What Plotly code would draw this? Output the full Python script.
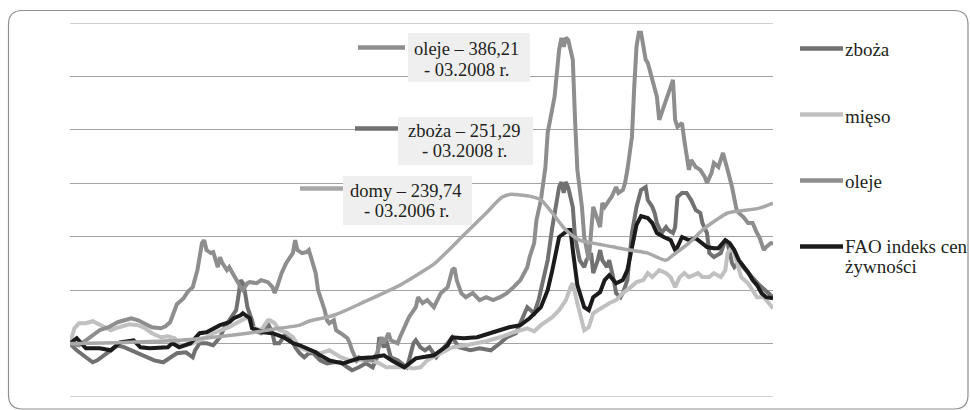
import plotly.graph_objects as go

# ---- data: indices, Jan 1990 = 100 ----
zboza_dates = ["1990-01","1990-04","1990-08","1990-11","1991-01","1991-04","1991-07","1991-10","1992-01","1992-04",
               "1992-08","1992-11","1993-02","1993-06","1993-09","1993-12","1994-04","1994-07","1994-08","1994-10",
               "1995-01","1995-04","1995-07","1995-09","1995-11","1996-02","1996-03","1996-04","1996-05","1996-06",
               "1996-07","1996-09","1996-10","1997-01","1997-03","1997-04","1997-06","1997-07","1997-09","1997-12",
               "1998-02","1998-04","1998-06","1998-08","1998-10","1998-12","1999-03","1999-06","1999-09","1999-12",
               "2000-03","2000-05","2000-08","2000-11","2001-02","2001-04","2001-05","2001-07","2001-08","2001-10",
               "2002-01","2002-03","2002-05","2002-06","2002-08","2002-09","2002-11","2003-01","2003-03","2003-06",
               "2003-10","2004-01","2004-04","2004-09","2005-01","2005-06","2005-10","2006-01","2006-05","2006-08",
               "2006-10","2007-01","2007-03","2007-05","2007-07","2007-09","2007-12","2008-01","2008-02","2008-03",
               "2008-04","2008-06","2008-07","2008-09","2008-11","2008-12","2009-02","2009-03","2009-05","2009-06",
               "2009-07","2009-09","2009-10","2009-12","2010-01","2010-03","2010-04","2010-06","2010-07","2010-08",
               "2010-10","2010-12","2011-02","2011-03","2011-05","2011-06","2011-07","2011-09","2011-11","2011-12",
               "2012-02","2012-03","2012-04","2012-06","2012-08","2012-10","2012-12","2013-02","2013-03","2013-05",
               "2013-06","2013-08","2013-11","2014-01","2014-02","2014-04","2014-05","2014-07","2014-12","2015-04",
               "2015-10"]
zboza_vals = [100.0, 93.7, 87.2, 82.5, 84.3, 89.0, 93.7, 98.4, 96.5, 93.7,
              89.0, 86.2, 84.3, 82.5, 86.2, 90.9, 91.8, 87.2, 93.7, 100.3,
              100.3, 98.4, 105.9, 115.3, 121.8, 131.2, 143.4, 159.4, 156.5, 147.2,
              134.0, 121.8, 112.5, 109.7, 112.5, 119.0, 109.7, 100.3, 100.3, 109.7,
              105.9, 96.5, 90.9, 87.2, 90.9, 90.9, 84.3, 81.5, 82.5, 82.5,
              77.8, 75.0, 77.8, 81.5, 77.8, 87.2, 105.9, 96.5, 103.1, 87.2,
              84.3, 81.5, 77.8, 84.3, 100.3, 103.1, 96.5, 93.7, 96.5, 87.2,
              98.4, 105.9, 96.5, 93.7, 95.6, 93.7, 100.3, 105.9, 109.7, 124.7,
              134.0, 128.4, 140.6, 159.4, 178.1, 209.0, 246.5, 251.0, 241.0, 251.29,
              246.0, 227.8, 199.7, 178.1, 171.5, 178.1, 184.7, 165.9, 178.1, 187.5,
              178.1, 171.5, 178.1, 159.4, 147.2, 143.4, 147.2, 159.4, 184.7, 203.4,
              227.8, 243.7, 246.5, 234.3, 227.8, 222.2, 212.8, 203.4, 209.0, 206.2,
              203.4, 209.0, 237.2, 240.9, 240.9, 234.3, 225.0, 222.2, 212.8, 203.4,
              184.7, 180.9, 184.7, 196.8, 194.0, 175.3, 171.5, 176.2, 164.0, 154.7,
              143.4]

mieso_dates = ["1990-01","1990-03","1990-05","1990-08","1990-11","1991-01","1991-04","1991-07","1991-09","1991-12",
               "1992-03","1992-07","1992-10","1993-01","1993-05","1993-08","1993-11","1994-01","1994-04","1994-07",
               "1994-10","1995-01","1995-04","1995-08","1995-11","1996-02","1996-05","1996-07","1996-08","1996-09",
               "1997-01","1997-04","1997-05","1997-07","1997-09","1997-12","1998-03","1998-06","1998-09","1999-01",
               "1999-03","1999-07","1999-12","2000-04","2000-08","2001-01","2001-05","2001-08","2002-01","2002-05",
               "2002-08","2002-11","2003-02","2003-08","2004-01","2004-07","2005-04","2005-10","2006-04","2006-10",
               "2007-01","2007-04","2007-07","2007-09","2007-12","2008-03","2008-05","2008-06","2008-08","2008-10",
               "2008-11","2009-01","2009-03","2009-05","2009-07","2009-10","2010-01","2010-04","2010-07","2010-10",
               "2011-01","2011-03","2011-05","2011-08","2011-11","2012-01","2012-03","2012-05","2012-07","2012-09",
               "2013-01","2013-03","2013-06","2013-08","2013-11","2014-01","2014-02","2014-04","2014-05","2014-07",
               "2014-08","2014-11","2015-01","2015-03","2015-06","2015-08","2015-10"]
mieso_vals = [100.0, 114.3, 119.0, 119.0, 120.9, 119.0, 115.3, 112.5, 114.3, 116.2,
              118.1, 117.2, 114.3, 109.7, 105.9, 106.8, 105.0, 98.4, 98.4, 100.3,
              103.1, 105.9, 109.7, 112.5, 115.3, 119.0, 121.8, 124.7, 121.8, 115.3,
              112.5, 121.8, 121.8, 119.0, 112.5, 110.6, 105.9, 96.5, 93.7, 91.8,
              90.9, 93.7, 87.2, 84.3, 84.3, 84.3, 81.5, 77.8, 77.8, 77.8,
              76.8, 77.8, 84.3, 90.9, 96.5, 98.4, 102.2, 105.9, 110.6, 114.3,
              111.5, 117.2, 121.8, 124.7, 131.2, 140.6, 152.8, 156.5, 137.8, 121.8,
              112.5, 115.3, 128.4, 131.2, 134.0, 137.8, 140.6, 147.2, 151.9, 157.5,
              159.4, 165.9, 162.2, 168.7, 165.9, 162.2, 152.8, 162.2, 165.9, 162.2,
              165.9, 162.2, 162.2, 165.9, 162.2, 168.7, 184.7, 190.3, 184.7, 171.5,
              162.2, 156.5, 150.0, 143.4, 143.4, 137.8, 133.1]

oleje_dates = ["1990-01","1990-05","1990-08","1990-11","1991-02","1991-06","1991-10","1992-01","1992-04","1992-07",
               "1992-10","1993-01","1993-05","1993-07","1993-09","1993-11","1993-12","1994-03","1994-05","1994-07",
               "1994-09","1994-10","1994-11","1994-12","1995-01","1995-03","1995-04","1995-06","1995-07","1995-08",
               "1995-10","1995-11","1996-02","1996-04","1996-05","1996-07","1996-08","1996-11","1997-01","1997-04",
               "1997-06","1997-07","1997-08","1997-10","1997-12","1998-03","1998-04","1998-05","1998-07","1998-09",
               "1998-10","1998-11","1999-01","1999-02","1999-04","1999-05","1999-06","1999-07","1999-09","1999-10",
               "1999-12","2000-03","2000-04","2000-05","2000-07","2000-08","2000-11","2001-02","2001-04","2001-06",
               "2001-07","2001-09","2001-10","2002-01","2002-02","2002-04","2002-06","2002-09","2002-10","2002-12",
               "2003-02","2003-05","2003-08","2003-11","2004-01","2004-02","2004-03","2004-05","2004-07","2004-10",
               "2005-01","2005-04","2005-07","2005-10","2006-01","2006-04","2006-07","2006-10","2006-11","2007-01",
               "2007-02","2007-04","2007-05","2007-06","2007-07","2007-08","2007-10","2007-12","2008-01","2008-02",
               "2008-03","2008-04","2008-06","2008-07","2008-08","2008-10","2008-11","2009-01","2009-02","2009-03",
               "2009-05","2009-06","2009-07","2009-08","2009-10","2009-11","2010-01","2010-02","2010-04","2010-05",
               "2010-06","2010-08","2010-09","2010-10","2010-11","2010-12","2011-02","2011-03","2011-05","2011-07",
               "2011-08","2011-10","2011-11","2012-01","2012-02","2012-03","2012-04","2012-06","2012-07","2012-09",
               "2012-10","2012-12","2013-02","2013-04","2013-05","2013-07","2013-08","2013-10","2013-12","2014-01",
               "2014-02","2014-04","2014-06","2014-07","2014-09","2014-11","2015-01","2015-03","2015-04","2015-06",
               "2015-07","2015-09","2015-10"]
oleje_vals = [100.0, 98.4, 103.1, 107.8, 112.5, 115.3, 120.0, 121.8, 123.7, 121.8,
              118.1, 115.3, 114.3, 116.2, 120.0, 131.2, 136.8, 142.5, 149.0, 152.8,
              168.7, 180.9, 194.0, 196.8, 187.5, 184.7, 185.6, 171.5, 180.9, 175.3,
              168.7, 171.5, 159.4, 152.8, 150.0, 156.5, 157.5, 156.5, 159.4, 157.5,
              152.8, 147.2, 152.8, 165.9, 175.3, 184.7, 196.8, 187.5, 184.7, 185.6,
              187.5, 180.9, 165.9, 150.0, 137.8, 131.2, 121.8, 119.0, 121.8, 112.5,
              109.7, 105.0, 100.3, 93.7, 84.3, 87.2, 84.3, 84.3, 90.9, 105.9,
              100.3, 109.7, 103.1, 100.3, 105.9, 115.3, 124.7, 134.0, 143.4, 137.8,
              140.6, 134.0, 147.2, 152.8, 168.7, 170.6, 159.4, 147.2, 143.4, 147.2,
              140.6, 143.4, 140.6, 143.4, 147.2, 152.8, 159.4, 171.5, 180.9, 194.0,
              215.6, 234.3, 250.3, 265.3, 297.2, 309.3, 330.9, 375.0, 386.0, 377.8,
              386.21, 384.0, 365.6, 309.3, 262.5, 227.8, 199.7, 178.1, 203.4, 227.8,
              215.6, 209.0, 231.5, 227.8, 234.3, 237.2, 246.5, 240.9, 243.7, 250.3,
              262.5, 293.4, 340.3, 377.8, 390.9, 390.9, 365.6, 362.8, 346.8, 330.9,
              309.3, 321.5, 325.3, 340.3, 346.8, 309.3, 302.8, 306.5, 290.6, 262.5,
              271.8, 265.3, 262.5, 256.0, 250.3, 259.7, 269.0, 265.3, 278.4, 271.8,
              262.5, 246.5, 225.0, 222.2, 218.4, 212.8, 212.8, 203.4, 199.7, 187.5,
              190.3, 194.0, 194.0]

fao_dates = ["1990-01","1990-04","1990-08","1991-02","1991-07","1991-11","1992-05","1992-08","1992-12","1993-08",
             "1993-10","1994-01","1994-06","1994-10","1995-01","1995-04","1995-07","1995-11","1996-01","1996-04",
             "1996-05","1996-08","1996-09","1997-02","1997-06","1997-11","1998-03","1998-06","1998-09","1999-01",
             "1999-03","1999-07","2000-01","2000-08","2001-02","2001-07","2001-11","2002-04","2002-09","2003-05",
             "2003-11","2004-01","2004-06","2004-12","2005-07","2006-02","2006-07","2006-11","2007-04","2007-07",
             "2007-09","2007-12","2008-04","2008-05","2008-06","2008-08","2008-11","2009-01","2009-03","2009-06",
             "2009-08","2009-10","2010-01","2010-04","2010-06","2010-08","2010-10","2010-12","2011-03","2011-05",
             "2011-07","2011-10","2012-01","2012-03","2012-04","2012-06","2012-09","2012-12","2013-02","2013-05",
             "2013-08","2013-10","2014-01","2014-03","2014-05","2014-07","2014-11","2015-01","2015-03","2015-05",
             "2015-07","2015-10"]
fao_vals = [100.0, 105.0, 95.6, 95.6, 93.7, 101.2, 103.1, 96.5, 95.6, 96.5,
            100.3, 96.5, 100.3, 109.7, 110.6, 114.3, 117.2, 120.0, 123.7, 126.5,
            128.4, 123.7, 114.3, 110.6, 109.7, 105.9, 100.3, 98.4, 95.6, 91.8,
            89.0, 84.3, 81.5, 86.2, 87.2, 89.0, 83.4, 77.8, 86.2, 89.0,
            98.4, 105.9, 105.0, 105.9, 110.6, 115.3, 117.2, 123.7, 134.0, 150.0,
            168.7, 199.7, 206.2, 206.2, 187.5, 154.7, 134.0, 131.2, 143.4, 148.1,
            159.4, 164.0, 156.5, 159.4, 168.7, 192.2, 211.0, 219.3, 217.5, 212.8,
            203.4, 199.7, 196.8, 187.5, 190.3, 199.7, 196.8, 198.7, 195.0, 190.3,
            189.3, 189.3, 196.8, 194.0, 187.5, 178.1, 166.8, 159.4, 154.7, 147.2,
            143.4, 142.5]

domy_dates = ["1990-01","1992-01","1994-01","1995-04","1996-07","1997-09","1998-06","1998-10","1999-09","2000-11",
              "2002-02","2003-03","2003-05","2004-07","2005-04","2005-11","2006-03","2006-07","2006-11","2007-04",
              "2007-09","2008-03","2008-09","2009-03","2009-12","2010-07","2011-03","2011-07","2011-11","2012-02",
              "2012-09","2013-03","2013-09","2014-02","2014-07","2015-04","2015-10"]
domy_vals = [100.0, 101.0, 103.0, 105.9, 109.7, 114.3, 117.2, 120.9, 126.5, 139.7,
             154.7, 171.5, 174.3, 203.4, 222.2, 237.2, 239.74, 239.0, 238.0, 234.3,
             222.2, 206.2, 196.8, 194.0, 190.3, 187.5, 184.7, 180.9, 178.1, 182.8,
             194.0, 206.2, 215.6, 222.2, 224.0, 226.8, 231.5]

# ---- styling ----
C_ZBOZA = "#717171"
C_MIESO = "#c0c0c0"
C_OLEJE = "#8e8e8e"
C_DOMY = "#a8a8a8"
C_FAO = "#1c1a1b"
C_GRID = "#a3a3a3"
TXT = "#231f20"
SERIF = "Liberation Serif, Times New Roman, serif"
Y_MIN, Y_MAX = 50, 400

W, H = 970, 410
ML, MR, MT, MB = 70, 197, 23, 13


def px(x):
    return (x - ML) / (W - ML - MR)


def py(y):
    return (H - MB - y) / (H - MT - MB)


fig = go.Figure()
series = [
    (zboza_dates, zboza_vals, C_ZBOZA, 4, "linear"),
    (mieso_dates, mieso_vals, C_MIESO, 4, "linear"),
    (oleje_dates, oleje_vals, C_OLEJE, 4, "linear"),
    (fao_dates, fao_vals, C_FAO, 4, "linear"),
    (domy_dates, domy_vals, C_DOMY, 3.5, "spline"),
]
names = ["zboża", "mięso", "oleje", "FAO indeks cen żywności", "domy"]
for (d, v, c, w, shp), nm in zip(series, names):
    fig.add_trace(go.Scatter(x=d, y=v, mode="lines", name=nm, showlegend=False,
                             line=dict(color=c, width=w, shape=shp, smoothing=0.8),
                             hoverinfo="skip"))

shapes = []
annotations = []

# plotly skips gridlines on the very edges of the range, so draw those two explicitly
for gv in (Y_MIN, Y_MAX):
    shapes.append(dict(type="line", xref="paper", yref="y", x0=0, x1=1, y0=gv, y1=gv,
                       line=dict(color=C_GRID, width=1), layer="below"))

# rounded frame around the whole figure
x0, y0, x1, y1, r = 8.5, 10.5, 968.0, 409.0, 14
path = (f"M {px(x0 + r)},{py(y0)} L {px(x1 - r)},{py(y0)} Q {px(x1)},{py(y0)} {px(x1)},{py(y0 + r)} "
        f"L {px(x1)},{py(y1 - r)} Q {px(x1)},{py(y1)} {px(x1 - r)},{py(y1)} "
        f"L {px(x0 + r)},{py(y1)} Q {px(x0)},{py(y1)} {px(x0)},{py(y1 - r)} "
        f"L {px(x0)},{py(y0 + r)} Q {px(x0)},{py(y0)} {px(x0 + r)},{py(y0)} Z")
shapes.append(dict(type="path", xref="paper", yref="paper", path=path,
                   line=dict(color="#8f8f8f", width=1.2), layer="above"))

# callout boxes: (box l, t, r, b), sample line (x0, x1, y), text center x, line centers, texts, color
callouts = [
    ((408, 33, 530, 82), (358, 405, 47.5), 466, (49.5, 69.5),
     ("oleje – 386,21", "- 03.2008 r."), C_OLEJE),
    ((398, 117, 533, 165), (355, 398, 128.5), 465, (131, 151),
     ("zboża – 251,29", "- 03.2008 r."), C_ZBOZA),
    ((343, 176, 472, 225), (300, 343, 188.5), 406, (191, 211),
     ("domy – 239,74", "- 03.2006 r."), C_DOMY),
]
for (bl, bt, br, bb), (lx0, lx1, ly), tx, (ty1, ty2), (t1, t2), col in callouts:
    shapes.append(dict(type="rect", xref="paper", yref="paper",
                       x0=px(bl), x1=px(br), y0=py(bb), y1=py(bt),
                       fillcolor="#efeff0", line=dict(width=0), layer="above"))
    shapes.append(dict(type="line", xref="paper", yref="paper",
                       x0=px(lx0), x1=px(lx1), y0=py(ly), y1=py(ly),
                       line=dict(color=col, width=4.5), layer="above"))
    for t, ty in ((t1, ty1), (t2, ty2)):
        annotations.append(dict(xref="paper", yref="paper", x=px(tx), y=py(ty),
                                xanchor="center", yanchor="middle", text=t, showarrow=False,
                                font=dict(family=SERIF, size=18.5, color=TXT)))

# legend on the right
legend_items = [
    ("zboża", C_ZBOZA, 48.5, [49.5]),
    ("mięso", C_MIESO, 114.5, [116]),
    ("oleje", C_OLEJE, 180.5, [181.5]),
    ("FAO indeks cen|żywności", C_FAO, 246.5, [246.5, 266.5]),
]
for label, col, ly, tys in legend_items:
    shapes.append(dict(type="line", xref="paper", yref="paper",
                       x0=px(800), x1=px(843), y0=py(ly), y1=py(ly),
                       line=dict(color=col, width=4.5), layer="above"))
    for part, ty in zip(label.split("|"), tys):
        annotations.append(dict(xref="paper", yref="paper", x=px(843), y=py(ty),
                                xanchor="left", yanchor="middle", text=part, showarrow=False,
                                font=dict(family=SERIF, size=19, color=TXT)))

fig.update_layout(
    width=W, height=H, autosize=False,
    margin=dict(l=ML, r=MR, t=MT, b=MB),
    paper_bgcolor="white", plot_bgcolor="white",
    shapes=shapes, annotations=annotations,
    showlegend=False,
    xaxis=dict(type="date", range=["1990-01-01", "2015-10-01"], showgrid=False,
               showticklabels=False, ticks="", zeroline=False, showline=False),
    yaxis=dict(range=[Y_MIN, Y_MAX], dtick=50, tick0=50, showgrid=True, gridcolor=C_GRID,
               gridwidth=1, showticklabels=False, ticks="", zeroline=False, showline=False),
)

fig.write_html("out.html")
